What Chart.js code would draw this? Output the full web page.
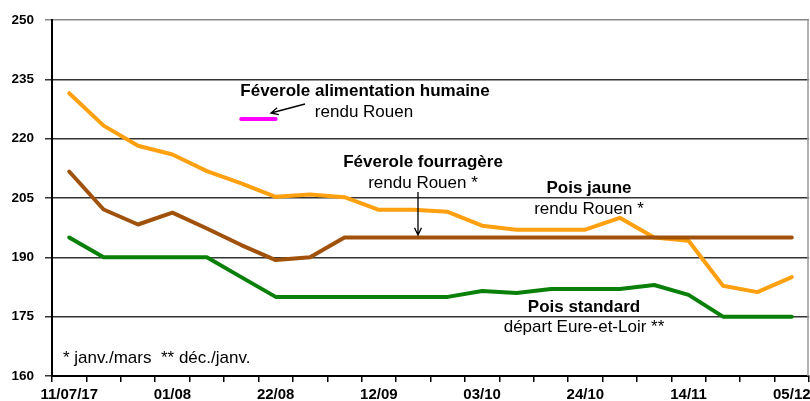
<!DOCTYPE html>
<html>
<head>
<meta charset="utf-8">
<script src="https://cdn.jsdelivr.net/npm/chart.js@4.4.1/dist/chart.umd.min.js"></script>
<style>
  html, body { margin: 0; padding: 0; background: #fff; }
  #graph { display: block; }
</style>
</head>
<body>
<canvas id="graph" width="810" height="401"></canvas>
<script>
const semaines = ['11/07/17', '18/07', '25/07', '01/08', '08/08', '15/08', '22/08', '29/08', '05/09', '12/09', '19/09',
  '26/09', '03/10', '10/10', '17/10', '24/10', '31/10', '07/11', '14/11', '21/11', '28/11', '05/12'];

const poisJaune = [231.5, 223.3, 218.2, 216, 211.8, 208.7, 205.3, 205.9, 205.2, 202, 202,
  201.5, 198, 197, 197, 197, 200, 195, 194.2, 182.8, 181.2, 185];
const feveroleFourragere = [211.7, 202.1, 198.3, 201.3, 197.3, 193.1, 189.3, 190, 195, 195, 195,
  195, 195, 195, 195, 195, 195, 195, 195, 195, 195, 195];
const poisStandard = [195, 190, 190, 190, 190, 185, 180, 180, 180, 180, 180,
  180, 181.5, 181, 182, 182, 182, 183, 180.5, 175, 175, 175];
const feveroleHumaine = [null, null, null, null, null, 225, 225, null, null, null, null,
  null, null, null, null, null, null, null, null, null, null, null];

const yTicks = [160, 175, 190, 205, 220, 235, 250];

const police = '"Liberation Sans", Arial, sans-serif';

// textes et flèches posés sur le graphique
const annotations = {
  id: 'annotations',
  afterDraw(chart) {
    const ctx = chart.ctx;
    const area = chart.chartArea;
    ctx.save();

    // bord droit gris
    ctx.strokeStyle = '#999';
    ctx.lineWidth = 1.5;
    ctx.beginPath();
    ctx.moveTo(area.right - 1, area.top);
    ctx.lineTo(area.right - 1, area.bottom);
    ctx.stroke();

    ctx.fillStyle = '#000';
    ctx.textAlign = 'center';
    const texte = (t, x, y, gras) => {
      ctx.font = (gras ? 'bold 17px ' : '17px ') + police;
      ctx.fillText(t, x, y);
    };
    texte('Féverole alimentation humaine', 365, 96, true);
    texte('rendu Rouen', 364, 117, false);
    texte('Féverole fourragère', 423, 167, true);
    texte('rendu Rouen *', 423, 188, false);
    texte('Pois jaune', 589, 193, true);
    texte('rendu Rouen *', 589, 214, false);
    texte('Pois standard', 584, 312, true);
    texte('départ Eure-et-Loir **', 584, 332, false);

    ctx.textAlign = 'left';
    ctx.font = '17px ' + police;
    ctx.fillText('* janv./mars  ** déc./janv.', 63, 363);

    // flèches
    ctx.strokeStyle = '#000';
    ctx.lineWidth = 1.3;
    const fleche = (x1, y1, x2, y2) => {
      const a = Math.atan2(y2 - y1, x2 - x1);
      ctx.beginPath();
      ctx.moveTo(x1, y1);
      ctx.lineTo(x2, y2);
      ctx.moveTo(x2 - 8 * Math.cos(a - 0.45), y2 - 8 * Math.sin(a - 0.45));
      ctx.lineTo(x2, y2);
      ctx.lineTo(x2 - 8 * Math.cos(a + 0.45), y2 - 8 * Math.sin(a + 0.45));
      ctx.stroke();
    };
    fleche(305, 104, 271, 113);
    fleche(418, 192, 418, 235);
    ctx.restore();
  }
};

new Chart(document.getElementById('graph'), {
  type: 'line',
  data: {
    labels: semaines,
    datasets: [
      {
        label: 'Féverole fourragère',
        data: feveroleFourragere,
        borderColor: '#A0520D',
        borderWidth: 4
      },
      {
        label: 'Pois jaune',
        data: poisJaune,
        borderColor: '#FFA010',
        borderWidth: 4
      },
      {
        label: 'Pois standard',
        data: poisStandard,
        borderColor: '#0A800A',
        borderWidth: 4
      },
      {
        label: 'Féverole alimentation humaine',
        data: feveroleHumaine,
        borderColor: '#FF00FF',
        borderWidth: 4
      }
    ]
  },
  options: {
    responsive: false,
    animation: false,
    layout: { padding: { top: 20, right: 1, left: 0, bottom: 0 } },
    elements: {
      line: { tension: 0, borderCapStyle: 'round', borderJoinStyle: 'round' },
      point: { radius: 0 }
    },
    plugins: {
      legend: { display: false },
      tooltip: { enabled: false }
    },
    scales: {
      x: {
        offset: true,
        afterFit: (axis) => {
          axis.height = 25;
          axis.paddingLeft = 0;
          axis.paddingRight = 0;
        },
        border: { color: '#000', width: 2 },
        grid: {
          offset: true,
          drawOnChartArea: false,
          color: '#000',
          lineWidth: 1.5,
          tickLength: 6
        },
        ticks: {
          autoSkip: false,
          maxRotation: 0,
          padding: 4,
          color: '#000',
          font: { family: police, size: 15, weight: 'bold' },
          callback: (v, i) => (i % 3 === 0 ? semaines[i] : '')
        }
      },
      y: {
        min: 160,
        max: 250,
        afterFit: (axis) => { axis.width = 52; },
        afterBuildTicks: (axis) => { axis.ticks = yTicks.map(v => ({ value: v })); },
        border: { color: '#000', width: 2 },
        grid: {
          color: (c) => (c.tick && c.tick.value === 250 ? '#888' : '#333'),
          lineWidth: 1.5,
          tickLength: 7
        },
        ticks: {
          padding: 11,
          color: '#000',
          font: { family: police, size: 13.5, weight: 'bold' }
        }
      }
    }
  },
  plugins: [annotations]
});
</script>
</body>
</html>
